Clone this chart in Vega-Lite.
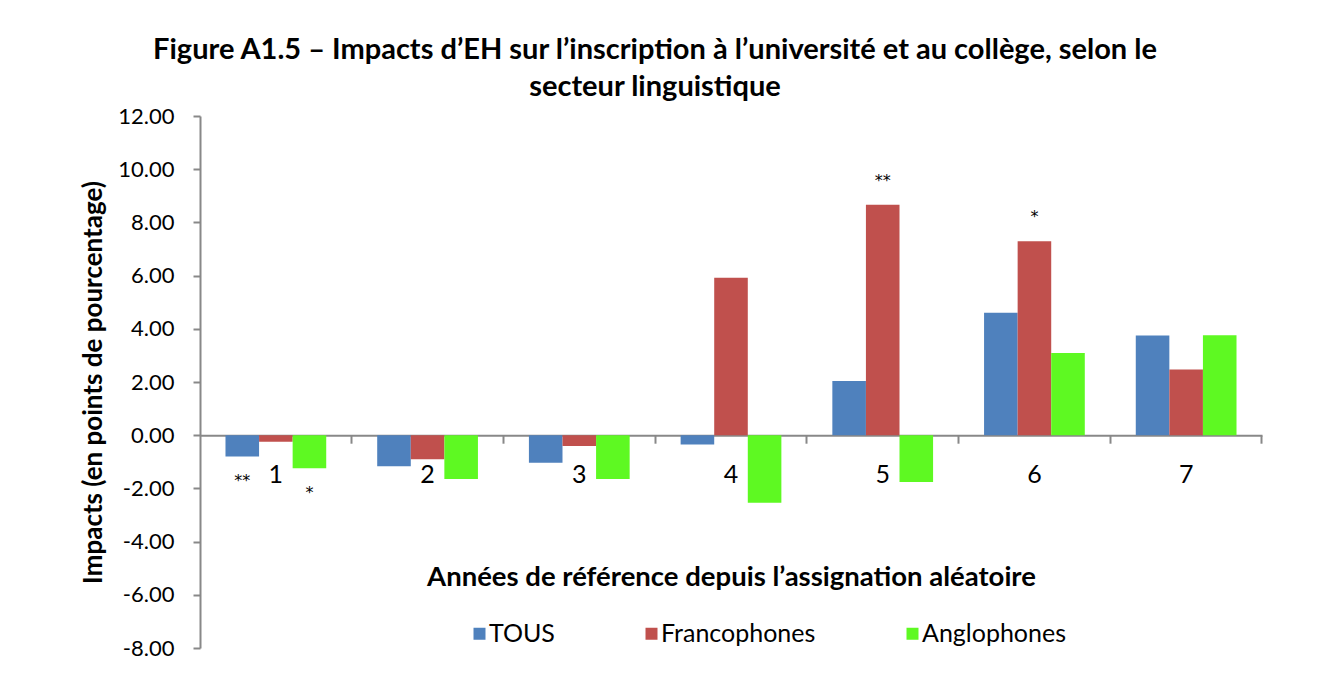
{
  "$schema": "https://vega.github.io/schema/vega-lite/v6.json",
  "width": 1062,
  "height": 532,
  "autosize": {"type": "none"},
  "padding": {"left": 200, "top": 116, "right": 78, "bottom": 50},
  "background": "white",
  "title": {
    "text": ["Figure A1.5 – Impacts d’EH sur l’inscription à l’université et au collège, selon le", "secteur linguistique"],
    "font": "Lato",
    "fontSize": 29,
    "fontWeight": "bold",
    "lineHeight": 37,
    "color": "black",
    "anchor": "middle",
    "frame": "group",
    "dx": -76,
    "offset": 3
  },
  "config": {
    "view": {"stroke": null},
    "font": "Lato"
  },
  "data": {
    "values": [
      {"annee": "1", "groupe": "TOUS", "impact": -0.80, "sig": "**"},
      {"annee": "1", "groupe": "Francophones", "impact": -0.25, "sig": ""},
      {"annee": "1", "groupe": "Anglophones", "impact": -1.24, "sig": "*"},
      {"annee": "2", "groupe": "TOUS", "impact": -1.17, "sig": ""},
      {"annee": "2", "groupe": "Francophones", "impact": -0.90, "sig": ""},
      {"annee": "2", "groupe": "Anglophones", "impact": -1.65, "sig": ""},
      {"annee": "3", "groupe": "TOUS", "impact": -1.04, "sig": ""},
      {"annee": "3", "groupe": "Francophones", "impact": -0.41, "sig": ""},
      {"annee": "3", "groupe": "Anglophones", "impact": -1.65, "sig": ""},
      {"annee": "4", "groupe": "TOUS", "impact": -0.35, "sig": ""},
      {"annee": "4", "groupe": "Francophones", "impact": 5.92, "sig": ""},
      {"annee": "4", "groupe": "Anglophones", "impact": -2.54, "sig": ""},
      {"annee": "5", "groupe": "TOUS", "impact": 2.04, "sig": ""},
      {"annee": "5", "groupe": "Francophones", "impact": 8.66, "sig": "**"},
      {"annee": "5", "groupe": "Anglophones", "impact": -1.76, "sig": ""},
      {"annee": "6", "groupe": "TOUS", "impact": 4.60, "sig": ""},
      {"annee": "6", "groupe": "Francophones", "impact": 7.29, "sig": "*"},
      {"annee": "6", "groupe": "Anglophones", "impact": 3.09, "sig": ""},
      {"annee": "7", "groupe": "TOUS", "impact": 3.75, "sig": ""},
      {"annee": "7", "groupe": "Francophones", "impact": 2.47, "sig": ""},
      {"annee": "7", "groupe": "Anglophones", "impact": 3.76, "sig": ""}
    ]
  },
  "layer": [
    {
      "mark": {"type": "bar"},
      "encoding": {
        "x": {
          "field": "annee", "type": "nominal", "sort": ["1","2","3","4","5","6","7"],
          "scale": {"paddingInner": 0.336, "paddingOuter": 0.168},
          "axis": {
            "title": "Années de référence depuis l’assignation aléatoire",
            "titleFont": "Lato", "titleFontSize": 27.5, "titleFontWeight": "bold", "titleColor": "black",
            "titleY": 142, "titleBaseline": "middle",
            "labelAngle": 0, "labelFont": "Lato", "labelFontSize": 25, "labelColor": "black",
            "labelPadding": 27,
            "ticks": false,
            "domain": true, "domainColor": "#888888", "domainWidth": 2,
            "offset": -212.8
          }
        },
        "xOffset": {"field": "groupe", "type": "nominal", "sort": ["TOUS", "Francophones", "Anglophones"]},
        "y": {
          "field": "impact", "type": "quantitative",
          "scale": {"domain": [-8, 12], "nice": false, "zero": false},
          "axis": {
            "title": "Impacts (en points de pourcentage)",
            "titleFont": "Lato", "titleFontSize": 26, "titleFontWeight": "bold", "titleColor": "black",
            "titleX": -107, "titleY": 266, "titleAngle": 270, "titleAlign": "center", "titleBaseline": "middle",
            "values": [-8, -6, -4, -2, 0, 2, 4, 6, 8, 10, 12],
            "format": ".2f",
            "labelExpr": "replace(datum.label, '−', '-')",
            "labelFont": "Lato", "labelFontSize": 22, "labelColor": "black", "labelPadding": 19,
            "grid": false,
            "tickSize": 7, "tickColor": "#888888", "tickWidth": 2,
            "domainColor": "#888888", "domainWidth": 2
          }
        },
        "color": {
          "field": "groupe", "type": "nominal",
          "scale": {"domain": ["TOUS", "Francophones", "Anglophones"], "range": ["#4F81BD", "#C0504D", "#5EF922"]},
          "legend": {
            "title": null, "orient": "none", "direction": "horizontal",
            "legendX": 267, "legendY": 505, "padding": 0,
            "symbolType": "square", "symbolSize": 144, "symbolStrokeWidth": 0, "symbolOpacity": 1,
            "labelFont": "Lato", "labelFontSize": 25, "labelColor": "black", "labelOffset": -3, "labelLimit": 400,
            "columnPadding": 84
          }
        }
      }
    },
    {
      "transform": [{"filter": "datum.sig != '' && datum.impact < 0"}],
      "mark": {"type": "text", "baseline": "top", "dy": 17, "fontSize": 16, "font": "DejaVu Sans", "color": "black"},
      "encoding": {
        "x": {
          "field": "annee", "type": "nominal", "sort": ["1","2","3","4","5","6","7"],
          "axis": {
            "orient": "top",
            "title": null, "labels": false, "domain": false,
            "ticks": true, "tickSize": -8, "tickColor": "#888888", "tickWidth": 2,
            "bandPosition": 1.253, "offset": -319.2
          }
        },
        "xOffset": {"field": "groupe", "type": "nominal", "sort": ["TOUS", "Francophones", "Anglophones"]},
        "y": {"field": "impact", "type": "quantitative"},
        "text": {"field": "sig"}
      }
    },
    {
      "transform": [{"filter": "datum.sig != '' && datum.impact > 0"}],
      "mark": {"type": "text", "baseline": "top", "dy": -32, "fontSize": 16, "font": "DejaVu Sans", "color": "black"},
      "encoding": {
        "x": {"field": "annee", "type": "nominal", "sort": ["1","2","3","4","5","6","7"], "axis": null},
        "xOffset": {"field": "groupe", "type": "nominal", "sort": ["TOUS", "Francophones", "Anglophones"]},
        "y": {"field": "impact", "type": "quantitative"},
        "text": {"field": "sig"}
      }
    }
  ],
  "resolve": {"axis": {"x": "independent"}}
}
